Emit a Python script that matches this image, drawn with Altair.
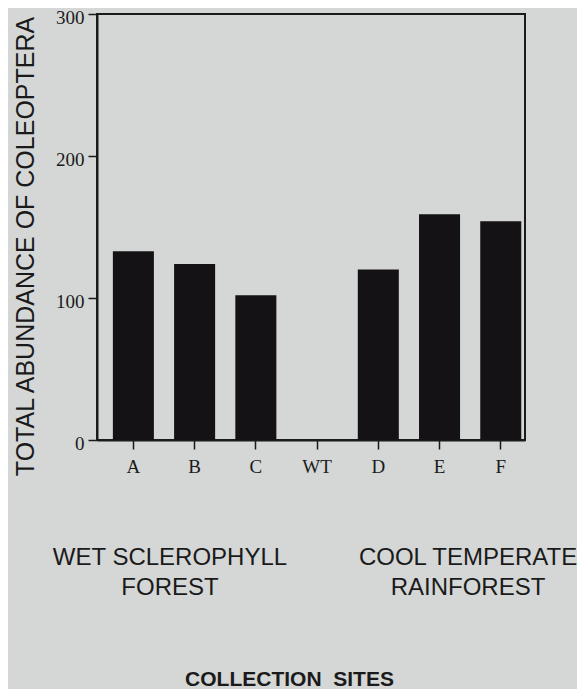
import altair as alt
import pandas as pd

sites = ["A", "B", "C", "WT", "D", "E", "F"]
abundance = [133, 124, 102, 0, 120, 159, 154]

group_labels = ["WET SCLEROPHYLL\nFOREST", "COOL TEMPERATE\nRAINFOREST"]
group_x = [73, 371]

y_ticks = [0, 100, 200, 300]

bars_df = pd.DataFrame({"site": sites, "abundance": abundance})
groups_df = pd.DataFrame({"label": group_labels, "px": group_x})

INK = "#1b1a1b"
BG = "#d4d7d6"

bars = alt.Chart(bars_df).mark_bar(color="#151215").encode(
    x=alt.X(
        "site:N",
        sort=sites,
        scale=alt.Scale(paddingInner=0.33, paddingOuter=0.16, align=0.81),
        axis=alt.Axis(
            title="COLLECTION\u00a0\u00a0SITES",
            titleFont="Liberation Sans",
            titleFontSize=21,
            titleFontWeight="bold",
            titleColor=INK,
            titleX=192,
            titleY=245,
            titleAlign="center",
            titleBaseline="alphabetic",
            labelAngle=0,
            labelFont="Liberation Serif",
            labelFontSize=19,
            labelColor=INK,
            labelPadding=8,
            tickSize=9,
            tickWidth=1.5,
            tickColor=INK,
            domainColor=INK,
            domainWidth=2,
        ),
    ),
    y=alt.Y(
        "abundance:Q",
        scale=alt.Scale(domain=[0, 300], nice=False),
        axis=alt.Axis(
            title="TOTAL ABUNDANCE OF COLEOPTERA",
            values=y_ticks,
            grid=False,
            titleFont="Liberation Sans",
            titleFontSize=25,
            titleFontWeight="normal",
            titleColor=INK,
            titleAngle=270,
            titleX=-64,
            titleY=232,
            titleAlign="center",
            titleBaseline="alphabetic",
            labelFont="Liberation Serif",
            labelFontSize=19,
            labelColor=INK,
            labelPadding=4,
            labelOffset=3,
            tickSize=9,
            tickWidth=1.5,
            tickColor=INK,
            domainColor=INK,
            domainWidth=2,
        ),
    ),
)

groups = alt.Chart(groups_df).mark_text(
    font="Liberation Sans",
    fontSize=24,
    color=INK,
    lineBreak="\n",
    lineHeight=30,
    align="center",
    baseline="middle",
).encode(
    text="label:N",
    x=alt.X("px:Q", scale=None),
    y=alt.value(544),
)

chart = (
    alt.layer(bars, groups)
    .properties(
        width=428,
        height=426,
        background=BG,
        padding={"left": 89, "top": 6, "right": 52, "bottom": 249},
        autosize=alt.AutoSizeParams(type="none"),
    )
    .configure_view(stroke=INK, strokeWidth=2)
)

chart.save("out.html", embed_options={"renderer": "svg", "actions": False})
